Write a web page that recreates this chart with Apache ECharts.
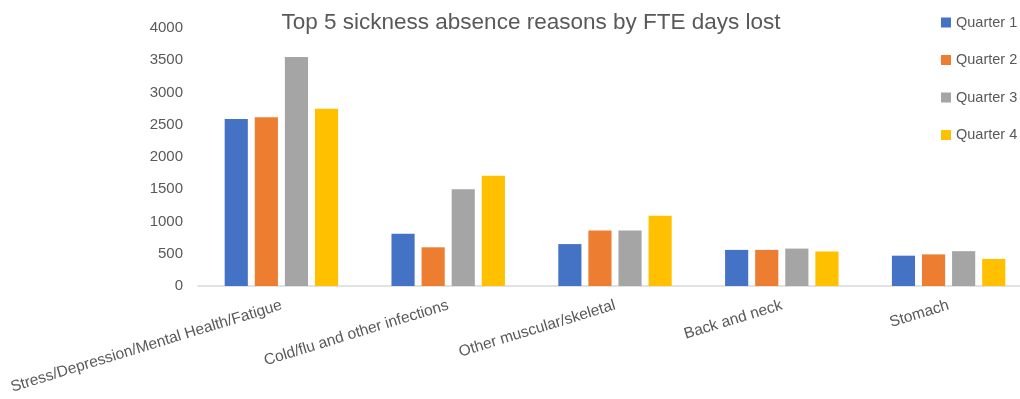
<!DOCTYPE html>
<html>
<head>
<meta charset="utf-8">
<style>
  html, body { margin: 0; padding: 0; background: #fff; }
  #chart { width: 1020px; height: 399px; }
</style>
<script src="https://cdn.jsdelivr.net/npm/echarts@6/dist/echarts.min.js"></script>
</head>
<body>
<div id="chart"></div>
<script>
// Sickness absence: FTE days lost per reason, by quarter
const categories = [
  'Stress/Depression/Mental Health/Fatigue',
  'Cold/flu and other infections',
  'Other muscular/skeletal',
  'Back and neck',
  'Stomach'
];
const seriesNames = ['Quarter 1', 'Quarter 2', 'Quarter 3', 'Quarter 4'];
const quarter1 = [2590, 810, 650, 560, 470];
const quarter2 = [2615, 600, 860, 560, 490];
const quarter3 = [3550, 1500, 860, 580, 540];
const quarter4 = [2750, 1710, 1090, 535, 420];
const yTicks = [0, 500, 1000, 1500, 2000, 2500, 3000, 3500, 4000];

const colors = ['#4472C4', '#ED7D31', '#A5A5A5', '#FFC000'];
const values = [quarter1, quarter2, quarter3, quarter4];
const textColor = '#595959';
const font = 'Liberation Sans, Arial, sans-serif';

const chart = echarts.init(document.getElementById('chart'), null, { renderer: 'canvas' });
chart.setOption({
  animation: false,
  color: colors,
  title: {
    text: 'Top 5 sickness absence reasons by FTE days lost',
    left: 526,
    textAlign: 'center',
    top: 6,
    textStyle: { color: textColor, fontSize: 22.5, fontWeight: 'normal', fontFamily: font }
  },
  legend: {
    orient: 'vertical',
    left: 936,
    top: 10,
    itemWidth: 10,
    itemHeight: 10,
    itemGap: 22.5,
    icon: 'rect',
    textStyle: { color: textColor, fontSize: 14.5, lineHeight: 14, fontFamily: font },
    data: seriesNames
  },
  // the plot area runs slightly past the right edge of the canvas
  grid: {
    left: 198, top: 28, right: -12, height: 258,
    containLabel: false,
    outerBoundsMode: 'none'
  },
  xAxis: {
    type: 'category',
    data: categories,
    axisLine: { lineStyle: { color: '#D9D9D9', width: 1.5 } },
    axisTick: { show: false },
    axisLabel: {
      rotate: 17,
      interval: 0,
      color: textColor,
      fontSize: 15.5,
      fontFamily: font,
      margin: 19
    }
  },
  yAxis: {
    type: 'value',
    min: yTicks[0],
    max: yTicks[yTicks.length - 1],
    interval: 500,
    axisLine: { show: false },
    axisTick: { show: false },
    splitLine: { show: false },
    axisLabel: {
      color: textColor,
      fontSize: 15,
      fontFamily: font,
      margin: 15,
      formatter: (v) => String(v)
    }
  },
  series: seriesNames.map((name, i) => ({
    name,
    type: 'bar',
    data: values[i],
    barGap: '30%',
    barCategoryGap: '32%',
    itemStyle: { color: colors[i] }
  }))
});
</script>
</body>
</html>
